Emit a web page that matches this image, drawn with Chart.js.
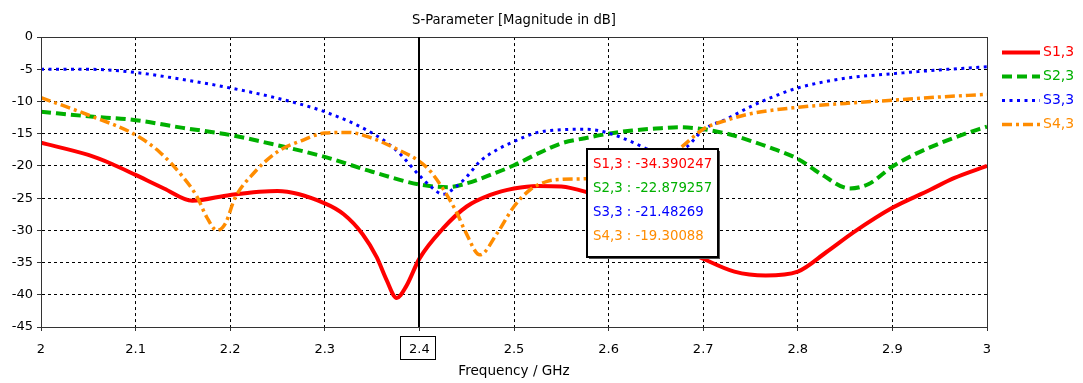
<!DOCTYPE html>
<html>
<head>
<meta charset="utf-8">
<title>S-Parameter [Magnitude in dB]</title>
<script src="https://cdn.jsdelivr.net/npm/chart.js"></script>
<style>
  body { margin: 0; background: #ffffff; }
  #wrap { width: 1083px; height: 383px; position: relative; }
</style>
</head>
<body>
<div id="wrap"><canvas id="sparam"></canvas></div>
<script>
// values (frequency in GHz, magnitude in dB)
var freq13 = [2.0, 2.05, 2.075, 2.1, 2.13, 2.16, 2.2, 2.25, 2.3, 2.32, 2.34, 2.355, 2.365, 2.376, 2.386, 2.4, 2.425, 2.45, 2.475, 2.5, 2.525, 2.55, 2.575, 2.6, 2.625, 2.65, 2.675, 2.7, 2.733, 2.766, 2.8, 2.83, 2.86, 2.9, 2.94, 2.965, 3.0];
var s13 = [-16.4, -18.3, -19.7, -21.4, -23.5, -25.4, -24.5, -23.9, -25.8, -27.5, -30.6, -34.2, -37.6, -40.5, -38.7, -34.39, -29.7, -26.3, -24.5, -23.5, -23.1, -23.2, -24.0, -25.3, -27.3, -30.0, -32.6, -34.4, -36.4, -37.0, -36.4, -33.4, -30.2, -26.5, -23.7, -21.9, -20.0];

var freq23 = [2.0, 2.05, 2.1, 2.15, 2.2, 2.25, 2.3, 2.35, 2.4, 2.43, 2.45, 2.475, 2.5, 2.525, 2.55, 2.575, 2.6, 2.625, 2.65, 2.675, 2.7, 2.725, 2.75, 2.775, 2.8, 2.825, 2.855, 2.875, 2.9, 2.925, 2.95, 2.975, 3.0];
var s23 = [-11.6, -12.3, -12.9, -14.1, -15.2, -16.8, -18.6, -20.9, -22.88, -23.3, -22.7, -21.4, -19.9, -18.1, -16.5, -15.7, -15.0, -14.5, -14.2, -14.0, -14.3, -15.0, -16.1, -17.4, -18.9, -21.3, -23.5, -22.8, -20.1, -18.1, -16.5, -15.1, -13.9];

var freq33 = [2.0, 2.05, 2.1, 2.15, 2.2, 2.25, 2.3, 2.35, 2.375, 2.4, 2.412, 2.425, 2.439, 2.45, 2.464, 2.482, 2.5, 2.525, 2.55, 2.575, 2.6, 2.625, 2.645, 2.665, 2.683, 2.7, 2.725, 2.75, 2.775, 2.8, 2.85, 2.9, 2.95, 3.0];
var s33 = [-5.0, -5.0, -5.5, -6.6, -7.9, -9.5, -11.6, -14.9, -17.5, -21.48, -23.2, -24.4, -23.2, -21.7, -19.3, -17.5, -16.2, -14.8, -14.4, -14.3, -14.9, -16.3, -17.6, -18.2, -17.0, -14.4, -12.7, -10.8, -9.2, -7.9, -6.4, -5.7, -5.1, -4.6];

var freq43 = [2.0, 2.05, 2.1, 2.125, 2.15, 2.165, 2.175, 2.186, 2.195, 2.205, 2.225, 2.25, 2.275, 2.3, 2.325, 2.35, 2.375, 2.4, 2.412, 2.439, 2.448, 2.464, 2.482, 2.5, 2.517, 2.535, 2.55, 2.575, 2.6, 2.625, 2.65, 2.675, 2.7, 2.725, 2.75, 2.8, 2.85, 2.9, 2.95, 3.0];
var s43 = [-9.4, -12.1, -15.2, -17.8, -21.7, -24.8, -27.9, -30.0, -28.9, -25.0, -21.1, -17.8, -16.1, -14.9, -14.8, -15.7, -17.3, -19.3, -20.9, -27.1, -30.0, -33.8, -30.5, -26.3, -23.7, -22.4, -22.1, -22.0, -21.7, -21.0, -19.5, -17.3, -14.3, -12.9, -11.9, -10.9, -10.3, -9.8, -9.3, -8.9];

var seriesNames = ['S1,3', 'S2,3', 'S3,3', 'S4,3'];
var seriesColors = ['#ff0000', '#00b000', '#0000ff', '#ff8c00'];
var seriesDash = [[], [10, 5], [3, 4.5], [10, 4, 3, 4]];
var seriesWidth = [4, 4, 3, 3.5];

// marker at 2.4 GHz and the values CST printed for it
var markerFreq = 2.4;
var markerValues = ['-34.390247', '-22.879257', '-21.48269', '-19.30088'];
var markerBoxAt = { x: 2.577, y: -17.4 };

var fontName = "'DejaVu Sans', 'Liberation Sans', sans-serif";

function toPoints(xs, ys) {
  var pts = [];
  for (var i = 0; i < xs.length; i++) {
    pts.push({ x: xs[i], y: ys[i] });
  }
  return pts;
}

function buildDatasets() {
  var allX = [freq13, freq23, freq33, freq43];
  var allY = [s13, s23, s33, s43];
  var sets = [];
  for (var i = 0; i < seriesNames.length; i++) {
    sets.push({
      label: seriesNames[i],
      data: toPoints(allX[i], allY[i]),
      borderColor: seriesColors[i],
      backgroundColor: seriesColors[i],
      borderWidth: seriesWidth[i],
      borderDash: seriesDash[i],
      pointRadius: 0,
      fill: false,
      cubicInterpolationMode: 'monotone',
      order: seriesNames.length - 1 - i
    });
  }
  return sets;
}

// frame, marker line, marker box, legend, boxed tick label
var cstDecor = {
  id: 'cstDecor',
  afterDatasetsDraw: function (chart) {
    var ctx = chart.ctx;
    var a = chart.chartArea;
    var xs = chart.scales.x;
    var ys = chart.scales.y;

    ctx.save();
    ctx.strokeStyle = '#333333';
    ctx.lineWidth = 1;
    ctx.strokeRect(Math.round(a.left) + 0.5, Math.round(a.top) + 0.5, Math.round(a.right - a.left), Math.round(a.bottom - a.top));

    // vertical marker
    var mx = Math.round(xs.getPixelForValue(markerFreq));
    ctx.strokeStyle = '#000000';
    ctx.lineWidth = 2;
    ctx.beginPath();
    ctx.moveTo(mx, a.top);
    ctx.lineTo(mx, a.bottom);
    ctx.stroke();

    // box round the 2.4 tick label
    ctx.lineWidth = 1;
    ctx.strokeRect(mx - 18.5, a.bottom + 9.5, 35, 23);

    // marker value box
    var bx = Math.round(xs.getPixelForValue(markerBoxAt.x));
    var by = Math.round(ys.getPixelForValue(markerBoxAt.y));
    var bw = 131, bh = 108;
    ctx.fillStyle = '#555555';
    ctx.fillRect(bx + 2, by + 2, bw, bh);
    ctx.fillStyle = '#ffffff';
    ctx.fillRect(bx, by, bw, bh);
    ctx.lineWidth = 2;
    ctx.strokeStyle = '#000000';
    ctx.strokeRect(bx, by, bw, bh);
    ctx.font = '13.3px ' + fontName;
    ctx.textBaseline = 'middle';
    ctx.textAlign = 'left';
    for (var i = 0; i < seriesNames.length; i++) {
      ctx.fillStyle = seriesColors[i];
      ctx.fillText(seriesNames[i] + ' : ' + markerValues[i], bx + 6, by + 16 + i * 24);
    }

    // legend on the right
    var lx = a.right + 15;
    for (var j = 0; j < seriesNames.length; j++) {
      var ly = Math.round(a.top + 15 + j * 24) + 0.5;
      ctx.strokeStyle = seriesColors[j];
      ctx.lineWidth = seriesWidth[j];
      ctx.setLineDash(seriesDash[j]);
      ctx.beginPath();
      ctx.moveTo(lx, ly);
      ctx.lineTo(lx + 38, ly);
      ctx.stroke();
      ctx.setLineDash([]);
      ctx.fillStyle = seriesColors[j];
      ctx.font = '14px ' + fontName;
      ctx.fillText(seriesNames[j], lx + 41, ly);
    }
    ctx.restore();
  }
};

Chart.defaults.font.family = fontName;
Chart.defaults.font.size = 13;
Chart.defaults.color = '#000000';

var ctx = document.getElementById('sparam');
var config = {
  type: 'line',
  data: { datasets: buildDatasets() },
  options: {
    responsive: true,
    maintainAspectRatio: false,
    animation: false,
    events: [],
    layout: { padding: { left: 0, right: 96, top: 0, bottom: 0 } },
    plugins: {
      legend: { display: false },
      tooltip: { enabled: false },
      title: {
        display: true,
        text: 'S-Parameter [Magnitude in dB]',
        fullSize: false,
        color: '#000000',
        font: { size: 13.2, weight: 'normal' },
        padding: { top: 13, bottom: 8.2 }
      }
    },
    scales: {
      x: {
        type: 'linear',
        min: 2,
        max: 3,
        ticks: {
          stepSize: 0.1,
          padding: 11,
          color: '#000000',
          callback: function (v) { return String(Math.round(v * 10) / 10); }
        },
        grid: { color: '#000000', tickColor: '#333333', tickLength: 4, tickBorderDash: [] },
        border: { display: true, color: '#333333', dash: [3, 3] },
        title: { display: true, text: 'Frequency / GHz', font: { size: 13.6 }, padding: { top: 0, bottom: 3 } },
        afterFit: function (scale) { scale.height = 56; }
      },
      y: {
        min: -45,
        max: 0,
        ticks: { stepSize: 5, padding: 4, color: '#000000' },
        grid: { color: '#000000', tickColor: '#333333', tickLength: 4, tickBorderDash: [] },
        border: { display: true, color: '#333333', dash: [3, 3] },
        afterFit: function (scale) { scale.width = 41; }
      }
    }
  },
  plugins: [cstDecor]
};

var sparamChart = new Chart(ctx, config);
console.log('chart area', sparamChart.chartArea);
</script>
</body>
</html>
